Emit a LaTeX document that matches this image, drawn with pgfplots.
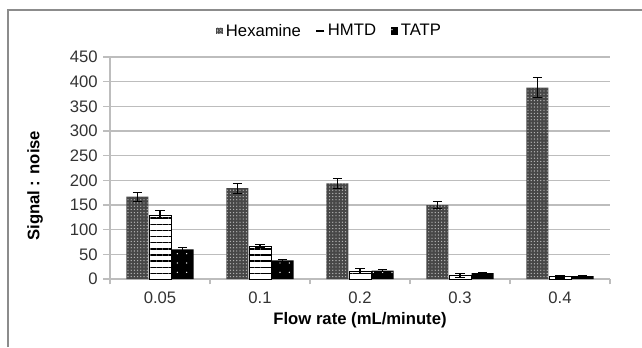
\documentclass[border=0pt]{standalone}
\usepackage{pgfplots}
\pgfplotsset{compat=1.18}
\usetikzlibrary{patterns,patterns.meta}
\usepackage{fontspec}
\setmainfont{Liberation Sans}
\definecolor{gridgray}{HTML}{BDBDBD}
\definecolor{framegray}{HTML}{8C8C8C}
\definecolor{hexgray}{HTML}{474747}
\begin{document}
\begin{tikzpicture}[x=0.75pt,y=0.75pt]
\useasboundingbox (0,0) rectangle (642,347);
\draw[framegray, line width=1pt] (8,0) -- (8,337) -- (642,337);
\begin{axis}[
  at={(110*0.75pt,68*0.75pt)}, anchor=south west,
  scale only axis, width=375pt, height=166.5pt,
  ybar, bar width=16.5pt,
  xmin=-0.5, xmax=4.5, ymin=0, ymax=450,
  ytick={0,50,...,450},
  xtick={0,1,2,3,4},
  xticklabels={0.05,0.1,0.2,0.3,0.4},
  minor xtick={-0.5,0.5,1.5,2.5,3.5,4.5},
  major x tick style={draw=none},
  tick align=outside,
  major tick length=5.25pt,
  minor tick length=4pt,
  tick style={gridgray, line width=1pt},
  axis x line*=bottom, axis y line*=left,
  axis line style={gridgray, line width=1pt, -},
  ymajorgrids, major grid style={gridgray, line width=1.1pt},
  font=\fontsize{12.5}{14}\selectfont,
  /pgf/number format/assume math mode=true,
  ticklabel style={font=\fontsize{12.5}{14}\selectfont, text=black!80},
  yticklabel style={xshift=-0.5pt},
  xticklabel style={yshift=-0.5pt},
  xlabel={\bfseries Flow rate (mL/minute)},
  ylabel={\bfseries Signal : noise},
  xlabel style={at={(axis description cs:0.5,-0.185)}, anchor=center},
  ylabel style={at={(axis description cs:-0.15,0.42)}, anchor=center, rotate=0},
  legend style={at={(axis description cs:0.44,1.117)}, anchor=center, draw=none,
    font=\fontsize{12.5}{14}\selectfont, /tikz/every even column/.append style={column sep=9pt}},
  legend columns=3,
  error bars/y dir=both, error bars/y explicit,
  error bars/error bar style={black, line width=0.8pt},
  error bars/error mark options={black, rotate=90, mark size=3.5pt, line width=0.8pt},
  clip=false,
]
\addplot[draw=none, fill=hexgray, bar shift=-16.9pt,
  postaction={pattern={Dots[distance=2.4pt,radius=0.5pt]}, pattern color=white!75!black},
  legend image code/.code={\fill[hexgray] (0pt,-2.6pt) rectangle (5.2pt,2.6pt);
     \fill[pattern={Dots[distance=1.6pt,radius=0.35pt]}, pattern color=white!75!black] (0pt,-2.6pt) rectangle (5.2pt,2.6pt);}]
coordinates {(0,167) +- (0,9) (1,184) +- (0,10) (2,194) +- (0,10) (3,150) +- (0,8) (4,388) +- (0,20)};
\addlegendentry{Hexamine}
\addplot[draw=black, line width=0.5pt, fill=white, bar shift=0pt,
  postaction={pattern={Lines[angle=0,distance=4.6pt,line width=1.1pt]}, pattern color=black},
  legend image code/.code={\draw[black, line width=1.2pt] (0pt,0pt) -- (6pt,0pt);}]
coordinates {(0,130) +- (0,8) (1,66) +- (0,3) (2,16) +- (0,5) (3,7) +- (0,4) (4,5) +- (0,3)};
\addlegendentry{HMTD}
\addplot[draw=none, fill=black, bar shift=16.9pt,
  postaction={pattern={Dots[distance=7pt,radius=0.55pt]}, pattern color=white},
  legend image code/.code={\fill[black] (0pt,-2.8pt) rectangle (5.6pt,2.8pt);}]
coordinates {(0,60) +- (0,4) (1,38) +- (0,2) (2,17) +- (0,2) (3,12) +- (0,1.5) (4,6) +- (0,1)};
\addlegendentry{TATP}
\end{axis}
\end{tikzpicture}
\end{document}
